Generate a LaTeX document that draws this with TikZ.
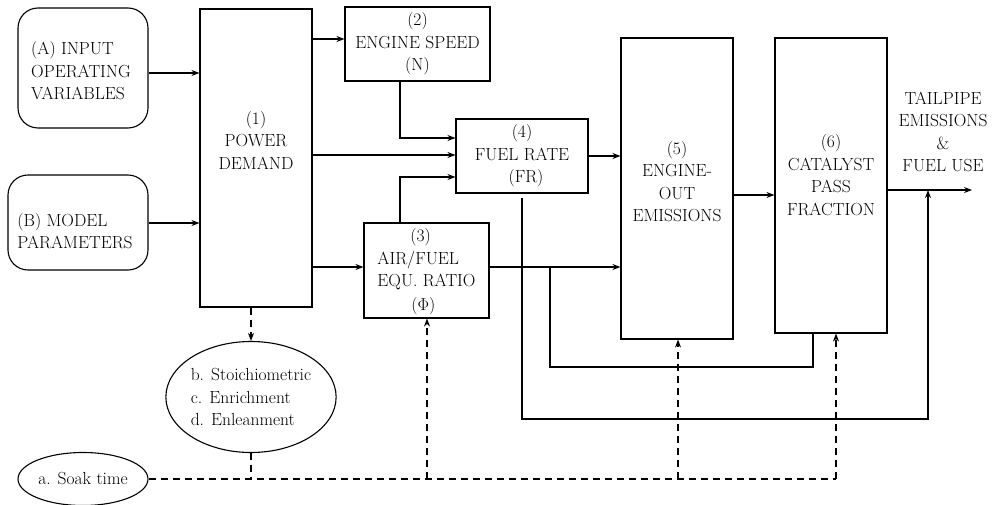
\documentclass[tikz,border=0pt]{standalone}
\usetikzlibrary{shapes.geometric,arrows.meta}
\begin{document}
\begin{tikzpicture}[x=1pt,y=-1pt,
  every node/.style={font=\rmfamily\fontsize{17.5}{22.5}\selectfont, inner sep=0pt},
  box/.style={draw, line width=1.1pt, inner sep=0pt},
  rbox/.style={box, rounded corners=20pt},
  lbl/.style={align=center, font=\rmfamily\fontsize{17.5}{22.5}\selectfont},
  lbll/.style={align=left, font=\rmfamily\fontsize{17.5}{22.5}\selectfont},
  conn/.style={line width=1.1pt},
  arr/.style={conn, -{Stealth[length=8pt,width=6pt]}},
  dconn/.style={line width=1.1pt, dash pattern=on 7pt off 5pt},
  darr/.style={dconn, -{Stealth[length=8pt,width=6pt]}}]
\useasboundingbox (0,0) rectangle (998,505);

% input boxes
\node[rbox, minimum width=130pt, minimum height=120pt,
  label={[lbll, xshift=-2pt, yshift=-3pt]center:(A) INPUT\\OPERATING\\VARIABLES}] (A) at (83,68) {};
\node[rbox, minimum width=140pt, minimum height=95pt,
  label={[lbll, xshift=-3pt, yshift=-8.5pt]center:(B) MODEL\\PARAMETERS}] (B) at (78,222.5) {};

% blocks
\node[box, minimum width=112pt, minimum height=298pt,
  label={[lbl, yshift=18pt]center:(1)\\POWER\\DEMAND}] (p1) at (256,158) {};
\node[box, minimum width=145pt, minimum height=74pt, align=center] (p2) at (417.5,44) {(2)\\ENGINE SPEED\\(N)};
\node[box, minimum width=132pt, minimum height=74pt, align=center] (p4) at (522,156) {(4)\\FUEL RATE\\\hspace*{8pt}(FR)};
\node[box, minimum width=125pt, minimum height=95pt,
  label={[lbll, xshift=0pt, yshift=-1pt]center:\hspace*{33pt}(3)\\AIR/FUEL\\EQU. RATIO\\[1pt]\hspace*{34pt}($\Phi$)}] (p3) at (426.5,270.5) {};
\node[box, minimum width=112pt, minimum height=301pt,
  label={[lbl, yshift=7pt]center:(5)\\ENGINE-\\OUT\\EMISSIONS}] (p5) at (677,188.5) {};
\node[box, minimum width=112pt, minimum height=295pt,
  label={[lbl, yshift=10.5pt]center:(6)\\CATALYST\\PASS\\FRACTION}] (p6) at (831,185.5) {};

% output text
\node[lbl] (tail) at (943,132) {TAILPIPE\\EMISSIONS\\\&\\FUEL USE};
\coordinate (out) at (972,190);

% ellipses
\node[ellipse, draw, line width=1.1pt, minimum width=168pt, minimum height=111pt, align=left] (ell) at (251,397)
  {b. Stoichiometric\\c. Enrichment\\d. Enleanment};
\node[ellipse, draw, line width=1.1pt, minimum width=130pt, minimum height=53pt] (soak) at (83,479) {a. Soak time};

% solid connectors
\draw[arr] (A.east |- 0,73) -- (p1.west |- 0,73);
\draw[arr] (B.east |- 0,223) -- (p1.west |- 0,223);
\draw[arr] (p1.east |- 0,39) -- (p2.west |- 0,39);
\draw[arr] (p1.east |- 0,155) -- (p4.west |- 0,155);
\draw[arr] (p1.east |- 0,267) -- (p3.west |- 0,267);
\draw[arr] (p2.south -| 400,0) |- (p4.west |- 0,138);
\draw[arr] (p3.north -| 400,0) |- (p4.west |- 0,177);
\draw[arr] (p4.east) -- (p5.west |- p4.east);
\draw[arr] (p3.east |- 0,267) -- (p5.west |- 0,267);
\draw[conn] (550,267) -- (550,367) -| (p6.south -| 813,0);
\draw[arr] ([yshift=-4pt]p4.south) -- (522,419) -| (out -| 928,0);
\draw[arr] (p5.east |- 0,195) -- (p6.west |- 0,195);
\draw[arr] (p6.east |- out) -- (out);

% dashed connectors
\draw[darr] (ell.north |- p1.south) -- (ell.north);
\draw[dconn] (soak.east) -- (836,479);
\draw[dconn] (ell.south) -- (ell.south |- soak.east);
\draw[darr] (427,479) -- (p3.south -| 427,0);
\draw[darr] (678,479) -- (p5.south -| 678,0);
\draw[darr] (836,479) -- (p6.south -| 836,0);
\end{tikzpicture}
\end{document}
